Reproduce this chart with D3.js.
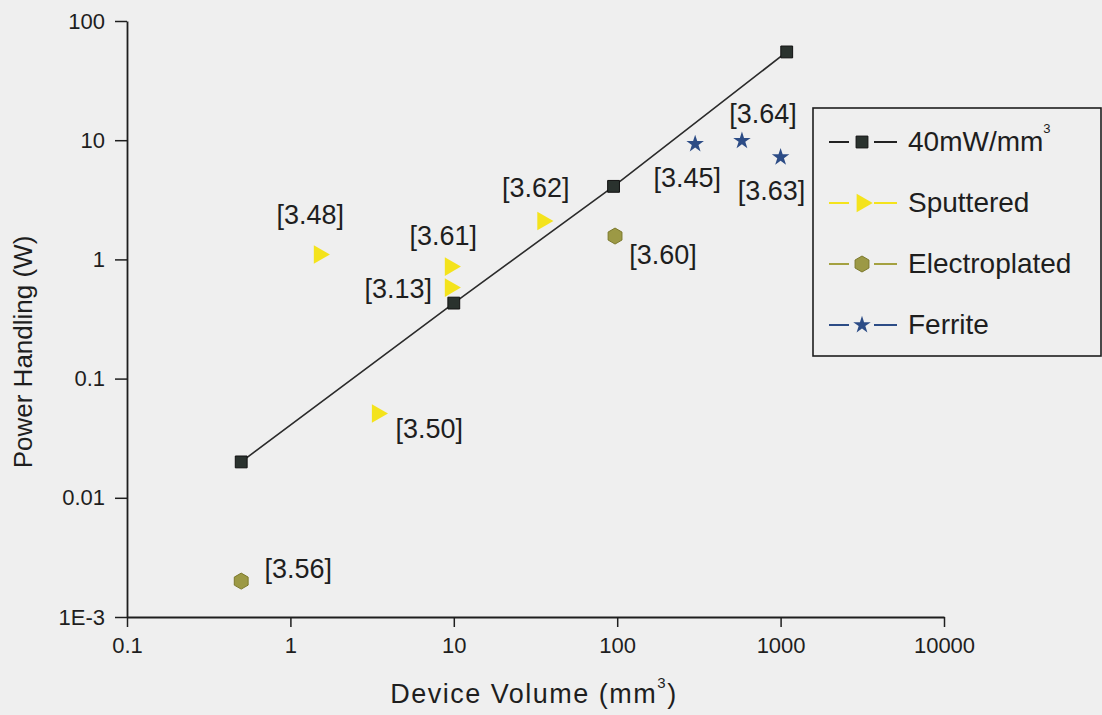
<!DOCTYPE html>
<html>
<head>
<meta charset="utf-8">
<script src="https://cdn.jsdelivr.net/npm/d3@7"></script>
<style>
  html, body { margin: 0; padding: 0; background: #efefef; }
  svg { display: block; font-family: "Liberation Sans", Arial, sans-serif; }
</style>
</head>
<body>
<svg id="chart" width="1102" height="715"></svg>
<script>
// 40 mW/mm^3 reference line
const refVolume = [0.5, 10, 95, 1090];
const refPower = [0.02, 0.43, 4.1, 55];

// Sputtered-core devices
const sputVolume = [1.5, 9.5, 9.5, 35, 3.4];
const sputPower = [1.1, 0.87, 0.58, 2.1, 0.051];
const sputRefs = ["[3.48]", "[3.61]", "[3.13]", "[3.62]", "[3.50]"];

// Electroplated-core devices
const elecVolume = [97, 0.5];
const elecPower = [1.57, 0.002];
const elecRefs = ["[3.60]", "[3.56]"];

// Ferrite-core devices
const ferrVolume = [300, 580, 1000];
const ferrPower = [9.3, 9.9, 7.2];
const ferrRefs = ["[3.45]", "[3.64]", "[3.63]"];

// Axes
const xTicks = [0.1, 1, 10, 100, 1000, 10000];
const xTickLabels = ["0.1", "1", "10", "100", "1000", "10000"];
const yTicks = [0.001, 0.01, 0.1, 1, 10, 100];
const yTickLabels = ["1E-3", "0.01", "0.1", "1", "10", "100"];
const xTitle = "Device Volume (mm^3)";
const yTitle = "Power Handling (W)";
const seriesNames = ["40mW/mm^3", "Sputtered", "Electroplated", "Ferrite"];

const svg = d3.select("#chart");
const ink = "#1e1e1e";

const x = d3.scaleLog().domain([0.1, 10000]).range([127, 944]);
const y = d3.scaleLog().domain([0.001, 100]).range([617, 21]);

// --- axes -------------------------------------------------------------
const xMinor = x.ticks().filter(v => !xTicks.some(t => Math.abs(t - v) / t < 1e-9));
const yMinor = y.ticks().filter(v => !yTicks.some(t => Math.abs(t - v) / t < 1e-9));

const gx = svg.append("g").attr("transform", "translate(0,617)");
gx.call(d3.axisBottom(x).tickValues(xMinor).tickSize(5).tickSizeOuter(0).tickFormat(""));
gx.call(d3.axisBottom(x).tickValues(xTicks).tickSize(10).tickSizeOuter(0).tickPadding(10)
  .tickFormat((d, i) => xTickLabels[i]));

const gy = svg.append("g").attr("transform", "translate(127,0)");
gy.call(d3.axisLeft(y).tickValues(yMinor).tickSize(6).tickSizeOuter(0).tickFormat(""));
gy.call(d3.axisLeft(y).tickValues(yTicks).tickSize(12).tickSizeOuter(0).tickPadding(10)
  .tickFormat((d, i) => yTickLabels[i]));

[gx, gy].forEach(g => {
  g.attr("font-family", null).attr("font-size", null);
  g.selectAll("path.domain").attr("stroke", ink).attr("stroke-width", 1.8);
  g.selectAll(".tick line").attr("stroke", ink).attr("stroke-width", 1.5);
  g.selectAll(".tick text").attr("fill", ink).style("font-size", "22px");
});

// axis titles (with superscript after "^")
function addRich(sel, str, supSize, supShift) {
  const parts = str.split("^");
  sel.append("tspan").text(parts[0]);
  if (parts.length > 1) {
    const rest = parts[1];
    sel.append("tspan").attr("dy", -supShift).style("font-size", supSize + "px").text(rest[0]);
    if (rest.length > 1) sel.append("tspan").attr("dy", supShift).text(rest.slice(1));
  }
}

const xt = svg.append("text")
  .attr("x", 534).attr("y", 703)
  .attr("text-anchor", "middle")
  .attr("fill", ink)
  .style("font-size", "27px")
  .style("letter-spacing", "1.5px");
addRich(xt, xTitle, 15, 15);

svg.append("text")
  .attr("transform", "translate(32,352) rotate(-90)")
  .attr("text-anchor", "middle")
  .attr("fill", ink)
  .style("font-size", "26px")
  .text(yTitle);

// --- marker shapes ------------------------------------------------------
const squarePath = d3.symbol(d3.symbolSquare, 140)();
const trianglePath = d3.symbol(d3.symbolTriangle, 150)();
const starPath = d3.symbol(d3.symbolStar, 95)();
const hexPath = (() => {
  const r = 8;
  const pts = d3.range(6).map(i => {
    const a = Math.PI / 6 + i * Math.PI / 3;
    return [r * Math.cos(a), r * Math.sin(a)];
  });
  return "M" + pts.map(p => p.join(",")).join("L") + "Z";
})();

const styles = [
  { path: squarePath, fill: "#2a322e", stroke: "#111", rot: 0, line: "#222" },
  { path: trianglePath, fill: "#f4e31c", stroke: "none", rot: 90, line: "#f4e31c" },
  { path: hexPath, fill: "#9c9945", stroke: "#7c792c", rot: 0, line: "#a4a140" },
  { path: starPath, fill: "#2c4c86", stroke: "none", rot: 0, line: "#2c4c86" }
];

function drawMarkers(vols, pows, st) {
  svg.append("g").selectAll("path")
    .data(vols.map((v, i) => [v, pows[i]]))
    .join("path")
    .attr("d", st.path)
    .attr("transform", d => `translate(${x(d[0])},${y(d[1])}) rotate(${st.rot})`)
    .attr("fill", st.fill)
    .attr("stroke", st.stroke)
    .attr("stroke-width", 1);
}

// reference line
svg.append("path")
  .datum(refVolume.map((v, i) => [v, refPower[i]]))
  .attr("d", d3.line().x(d => x(d[0])).y(d => y(d[1])))
  .attr("fill", "none")
  .attr("stroke", "#2b2b2b")
  .attr("stroke-width", 1.6);

drawMarkers(sputVolume, sputPower, styles[1]);
drawMarkers(elecVolume, elecPower, styles[2]);
drawMarkers(ferrVolume, ferrPower, styles[3]);
drawMarkers(refVolume, refPower, styles[0]);

// --- reference tags beside points (offset: dx of text centre, dy of baseline)
const sputOffsets = [[-9, -30], [-7, -22], [-52, 10], [-7, -24], [52, 25]];
const elecOffsets = [[48, 28], [57, -3]];
const ferrOffsets = [[-8, 43], [21, -18], [-9, 43]];

function drawTags(vols, pows, refs, offs) {
  svg.append("g").selectAll("text")
    .data(refs)
    .join("text")
    .attr("x", (d, i) => x(vols[i]) + offs[i][0])
    .attr("y", (d, i) => y(pows[i]) + offs[i][1])
    .attr("text-anchor", "middle")
    .attr("fill", ink)
    .style("font-size", "27px")
    .text(d => d);
}
drawTags(sputVolume, sputPower, sputRefs, sputOffsets);
drawTags(elecVolume, elecPower, elecRefs, elecOffsets);
drawTags(ferrVolume, ferrPower, ferrRefs, ferrOffsets);

// --- legend -----------------------------------------------------------
const lg = svg.append("g");
lg.append("rect")
  .attr("x", 813).attr("y", 108).attr("width", 288).attr("height", 248)
  .attr("fill", "none").attr("stroke", ink).attr("stroke-width", 1.6);

seriesNames.forEach((name, i) => {
  const st = styles[i];
  const cy = 142 + i * 61;
  const cx = 862;
  lg.append("line").attr("x1", 829).attr("x2", 849).attr("y1", cy).attr("y2", cy)
    .attr("stroke", st.line).attr("stroke-width", 2);
  lg.append("line").attr("x1", 874).attr("x2", 897).attr("y1", cy).attr("y2", cy)
    .attr("stroke", st.line).attr("stroke-width", 2);
  lg.append("path").attr("d", st.path)
    .attr("transform", `translate(${cx},${cy}) rotate(${st.rot})`)
    .attr("fill", st.fill).attr("stroke", st.stroke).attr("stroke-width", 1);
  const t = lg.append("text")
    .attr("x", 908).attr("y", cy + 9)
    .attr("fill", ink)
    .style("font-size", "28px");
  addRich(t, name, 13, 18);
});
</script>
</body>
</html>
